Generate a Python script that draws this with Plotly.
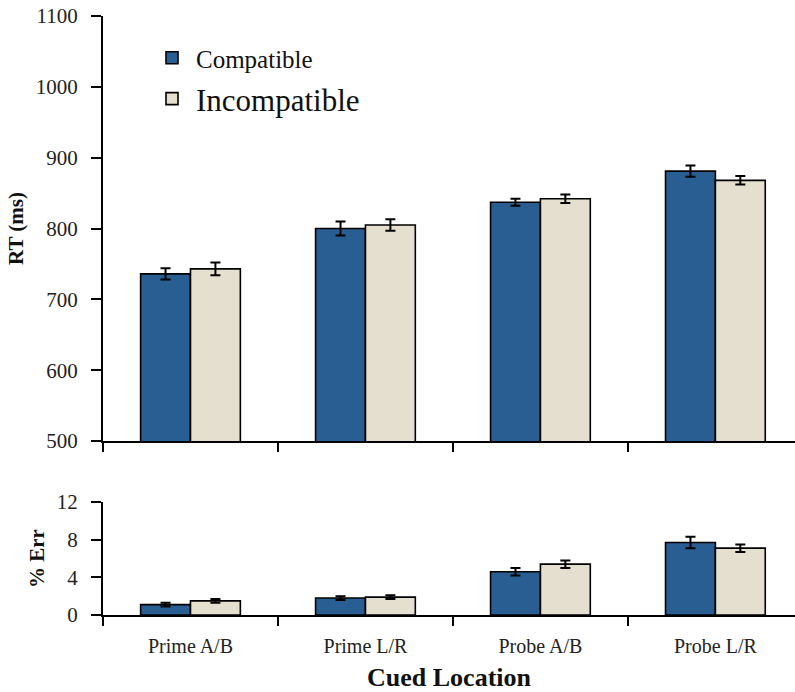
import plotly.graph_objects as go

categories = ["Prime A/B", "Prime L/R", "Probe A/B", "Probe L/R"]
rt_compatible = [736, 800, 837, 881]
rt_compatible_err = [8, 10, 5, 8]
rt_incompatible = [743, 805, 842, 868]
rt_incompatible_err = [9, 8, 6, 6]
err_compatible = [1.1, 1.8, 4.6, 7.7]
err_compatible_se = [0.2, 0.2, 0.4, 0.6]
err_incompatible = [1.5, 1.9, 5.4, 7.1]
err_incompatible_se = [0.2, 0.2, 0.4, 0.4]
rt_ticks = [500, 600, 700, 800, 900, 1000, 1100]
err_ticks = [0, 4, 8, 12]

BLUE = "#285E91"
BEIGE = "#E4DFCE"
FONT = "Liberation Serif"
W, H = 795, 692

fig = go.Figure()

def bar(x, y, e, color, name, xa, ya, show, legend):
    return go.Bar(
        x=x, y=y, name=name, xaxis=xa, yaxis=ya, showlegend=show, legend=legend,
        marker=dict(color=color, line=dict(color="black", width=1.6)),
        error_y=dict(type="data", array=e, color="black", thickness=2, width=5),
    )

fig.add_trace(bar(categories, rt_compatible, rt_compatible_err, BLUE, "Compatible", "x", "y", True, "legend"))
fig.add_trace(bar(categories, rt_incompatible, rt_incompatible_err, BEIGE, "Incompatible", "x", "y", True, "legend2"))
fig.add_trace(bar(categories, err_compatible, err_compatible_se, BLUE, "Compatible", "x2", "y2", False, "legend"))
fig.add_trace(bar(categories, err_incompatible, err_incompatible_se, BEIGE, "Incompatible", "x2", "y2", False, "legend2"))

ML, MR, MT, MB = 0, 0, 0, 0
PW, PH = W - ML - MR, H - MT - MB

def xd(px):
    return (px - ML) / PW

def yd(py):
    return (H - MB - py) / PH

xdom = [xd(103), 1.0]
top_dom = [yd(441), yd(16)]
bot_dom = [yd(615), yd(502)]

base = dict(showline=True, linecolor="black", linewidth=2, ticks="outside",
            tickcolor="black", tickwidth=2, showgrid=False, zeroline=False,
            automargin=False)
yfont = dict(family=FONT, size=21, color="#222")
xfont = dict(family=FONT, size=20, color="#222")
ytitle_font = dict(family=FONT, size=21, color="#111")

fig.update_layout(
    width=W, height=H,
    margin=dict(l=ML, r=MR, t=MT, b=MB),
    paper_bgcolor="white", plot_bgcolor="white",
    barmode="group", bargap=0.43, bargroupgap=0,
    font=dict(family=FONT, color="#111"),
    xaxis=dict(domain=xdom, anchor="y", type="category", range=[-0.5, 3.455],
               tickson="boundaries", showticklabels=False, ticklen=9, **base),
    yaxis=dict(domain=top_dom, anchor="x", range=[500, 1100], tickvals=rt_ticks, ticklen=10,
               tickfont=yfont, ticklabelstandoff=9, ticklabeloverflow="allow",
               title=dict(text="<b>RT (ms)</b>", font=ytitle_font, standoff=6),
               **base),
    xaxis2=dict(domain=xdom, anchor="y2", type="category", range=[-0.5, 3.455],
                tickson="boundaries", ticklen=9, ticklabelstandoff=12, tickfont=xfont,
                title=dict(text="<b>Cued Location</b>", font=dict(family=FONT, size=26, color="#111"), standoff=13),
                **base),
    yaxis2=dict(domain=bot_dom, anchor="x2", range=[0, 12], tickvals=err_ticks, ticklen=10,
                tickfont=yfont, ticklabelstandoff=9, ticklabeloverflow="allow",
                title=dict(text="<b>% Err</b>", font=ytitle_font, standoff=6),
                **base),
    legend=dict(x=xd(148), y=yd(58), xanchor="left", yanchor="middle", itemwidth=38,
                font=dict(family=FONT, size=25, color="#111"), bgcolor="rgba(0,0,0,0)"),
    legend2=dict(x=xd(148), y=yd(99), xanchor="left", yanchor="middle", itemwidth=38,
                 font=dict(family=FONT, size=31, color="#111"), bgcolor="rgba(0,0,0,0)"),
)

fig.write_html("out.html", config={"displayModeBar": False},
               post_script="document.body.style.margin='0';")
